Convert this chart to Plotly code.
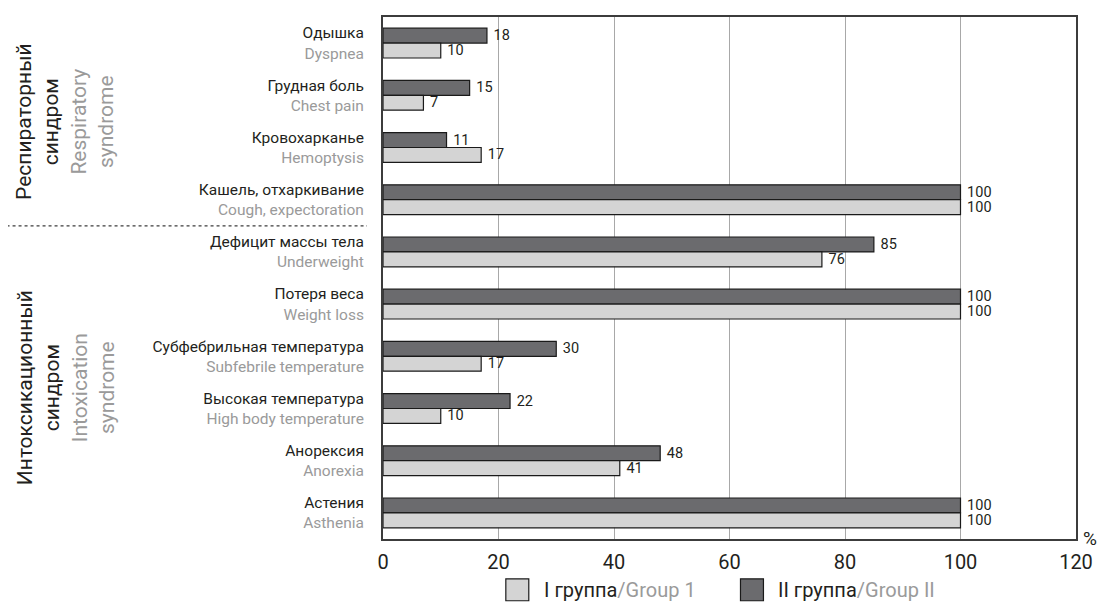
import plotly.graph_objects as go

# ---- data ----
labels_ru = ["Одышка", "Грудная боль", "Кровохарканье", "Кашель, отхаркивание",
             "Дефицит массы тела", "Потеря веса", "Субфебрильная температура",
             "Высокая температура", "Анорексия", "Астения"]
labels_en = ["Dyspnea", "Chest pain", "Hemoptysis", "Cough, expectoration",
             "Underweight", "Weight loss", "Subfebrile temperature",
             "High body temperature", "Anorexia", "Asthenia"]
group1 = [10, 7, 17, 100, 76, 100, 17, 10, 41, 100]
group2 = [18, 15, 11, 100, 85, 100, 30, 22, 48, 100]
x_ticks = [0, 20, 40, 60, 80, 100, 120]

GRAY = "#9a9a9a"
BLACK = "#231f20"
DARK = "#6b6b6e"
LIGHT = "#d4d4d4"
FONT = "Roboto"

# page offset compensation (browser body margin on every side, no scrollbars)
OFF = 8
PL, PT, PW, PH = 383 - OFF, 15 - OFF, 694, 524
W, H = 1108 - 2 * OFF, 610 - 2 * OFF

cats = list(range(len(labels_ru)))
ticktext = [f"{r}<br><span style='color:{GRAY}'>{e}</span>" for r, e in zip(labels_ru, labels_en)]

fig = go.Figure()
fig.add_trace(go.Bar(
    y=cats, x=group2, orientation="h", name="II группа/Group II",
    marker=dict(color=DARK, line=dict(color="#1a1a1a", width=1.2)),
    text=["\u00a0" + str(v) for v in group2], textposition="outside",
    textfont=dict(size=14.5, color=BLACK, family=FONT), cliponaxis=False,
))
fig.add_trace(go.Bar(
    y=cats, x=group1, orientation="h", name="I группа/Group 1",
    marker=dict(color=LIGHT, line=dict(color="#1a1a1a", width=1.2)),
    text=["\u00a0" + str(v) for v in group1], textposition="outside",
    textfont=dict(size=14.5, color=BLACK, family=FONT), cliponaxis=False,
))

fig.update_layout(
    width=W, height=H,
    margin=dict(l=PL, r=W - PL - PW, t=PT, b=H - PT - PH),
    barmode="group", bargap=0.43, bargroupgap=0,
    plot_bgcolor="white", paper_bgcolor="white",
    showlegend=False,
    font=dict(family=FONT, color=BLACK),
)
fig.update_traces(constraintext="none")

fig.update_xaxes(
    range=[0, 120], tickvals=x_ticks, ticktext=[str(t) for t in x_ticks],
    showgrid=True, gridcolor="#a8a8a8", gridwidth=1,
    showline=True, linecolor="#3c3c3c", linewidth=2, mirror=True,
    zeroline=False, ticks="", tickfont=dict(size=20, color=BLACK),
    ticklabelstandoff=4,
)
fig.update_yaxes(
    tickmode="array", tickvals=cats, ticktext=ticktext,
    range=[len(cats) - 0.5, -0.5],
    showgrid=False, zeroline=False,
    showline=True, linecolor="#3c3c3c", linewidth=2, mirror=True,
    ticks="", tickfont=dict(size=15.5, color=BLACK), ticklabelstandoff=14,
)

def px_x(p):
    return (p - OFF - PL) / PW

def px_y(p):
    return (PT + PH - (p - OFF)) / PH

# dotted separator between syndromes
fig.add_shape(type="line", xref="paper", yref="y",
              x0=px_x(0), x1=px_x(367), y0=3.5, y1=3.5,
              line=dict(color="#3c3c3c", width=1.2, dash="dot"))

# group labels (rotated)
fig.add_annotation(
    xref="paper", yref="y", x=px_x(10), y=1.5, xanchor="left", yanchor="middle",
    textangle=-90, showarrow=False, align="center",
    text=f"Респираторный<br>синдром<br><span style='color:{GRAY}'>Respiratory<br>syndrome</span>",
    font=dict(size=21, color=BLACK, family=FONT),
)
fig.add_annotation(
    xref="paper", yref="y", x=px_x(10), y=6.6, xanchor="left", yanchor="middle",
    textangle=-90, showarrow=False, align="center",
    text=f"Интоксикационный<br>синдром<br><span style='color:{GRAY}'>Intoxication<br>syndrome</span>",
    font=dict(size=21, color=BLACK, family=FONT),
)

# % unit label
fig.add_annotation(xref="paper", yref="paper", x=px_x(1100), y=px_y(538),
                   xanchor="right", yanchor="middle",
                   text="%", showarrow=False, font=dict(size=19, color=BLACK, family=FONT))

# custom legend
for x0, col, ru, en in [(506, LIGHT, "I группа", "Group 1"), (741, DARK, "II группа", "Group II")]:
    fig.add_shape(type="rect", xref="paper", yref="paper",
                  x0=px_x(x0), x1=px_x(x0 + 23), y0=px_y(601), y1=px_y(579),
                  fillcolor=col, line=dict(color="#1a1a1a", width=1.2))
    fig.add_annotation(xref="paper", yref="paper", x=px_x(x0 + 36), y=px_y(590),
                       xanchor="left", yanchor="middle", showarrow=False,
                       text=f"{ru}<span style='color:{GRAY}'>/{en}</span>",
                       font=dict(size=20, color=BLACK, family=FONT))

fig.write_html("out.html")
